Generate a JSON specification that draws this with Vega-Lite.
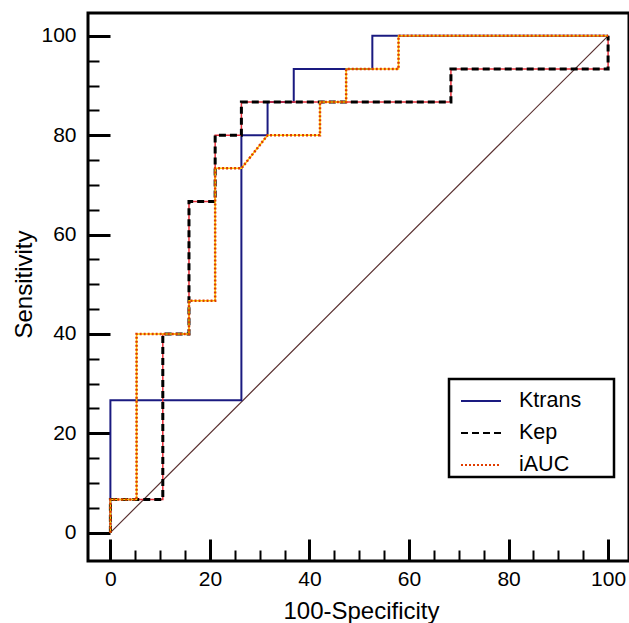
{
  "$schema": "https://vega.github.io/schema/vega-lite/v6.json",
  "width": 541,
  "height": 548,
  "autosize": {"type": "none"},
  "padding": {"left": 88, "top": 13, "right": 0, "bottom": 62},
  "background": "white",
  "config": {
    "font": "Liberation Sans",
    "view": {"stroke": "black", "strokeWidth": 3},
    "axis": {
      "domain": false,
      "grid": false,
      "labelColor": "black",
      "labelFontSize": 21,
      "labelFlush": false,
      "labelOverlap": false,
      "tickColor": "black",
      "titleColor": "black",
      "titleFontSize": 24,
      "titleFontWeight": "normal"
    },
    "legend": {
      "orient": "none",
      "legendX": 361,
      "legendY": 366,
      "strokeColor": "black",
      "padding": 1,
      "symbolOffset": 10,
      "symbolType": "stroke",
      "symbolSize": 1600,
      "symbolStrokeWidth": 2,
      "labelFontSize": 21.5,
      "labelColor": "black",
      "labelOffset": 17,
      "rowPadding": -11,
      "titleOrient": "right",
      "titleFontSize": 2,
      "titleColor": "white",
      "titleOpacity": 0,
      "titlePadding": 30
    }
  },
  "datasets": {
    "curves": [
      {"series": "Ktrans", "i": 0, "x": 0, "y": 0},
      {"series": "Ktrans", "i": 1, "x": 0, "y": 26.67},
      {"series": "Ktrans", "i": 2, "x": 26.32, "y": 26.67},
      {"series": "Ktrans", "i": 3, "x": 26.32, "y": 80},
      {"series": "Ktrans", "i": 4, "x": 31.58, "y": 80},
      {"series": "Ktrans", "i": 5, "x": 31.58, "y": 86.67},
      {"series": "Ktrans", "i": 6, "x": 36.84, "y": 86.67},
      {"series": "Ktrans", "i": 7, "x": 36.84, "y": 93.33},
      {"series": "Ktrans", "i": 8, "x": 52.63, "y": 93.33},
      {"series": "Ktrans", "i": 9, "x": 52.63, "y": 100},
      {"series": "Ktrans", "i": 10, "x": 100, "y": 100},
      {"series": "Kep", "i": 0, "x": 0, "y": 0},
      {"series": "Kep", "i": 1, "x": 0, "y": 6.67},
      {"series": "Kep", "i": 2, "x": 10.53, "y": 6.67},
      {"series": "Kep", "i": 3, "x": 10.53, "y": 40},
      {"series": "Kep", "i": 4, "x": 15.79, "y": 40},
      {"series": "Kep", "i": 5, "x": 15.79, "y": 66.67},
      {"series": "Kep", "i": 6, "x": 21.05, "y": 66.67},
      {"series": "Kep", "i": 7, "x": 21.05, "y": 80},
      {"series": "Kep", "i": 8, "x": 26.32, "y": 80},
      {"series": "Kep", "i": 9, "x": 26.32, "y": 86.67},
      {"series": "Kep", "i": 10, "x": 68.42, "y": 86.67},
      {"series": "Kep", "i": 11, "x": 68.42, "y": 93.33},
      {"series": "Kep", "i": 12, "x": 100, "y": 93.33},
      {"series": "Kep", "i": 13, "x": 100, "y": 100},
      {"series": "iAUC", "i": 0, "x": 0, "y": 0},
      {"series": "iAUC", "i": 1, "x": 0, "y": 6.67},
      {"series": "iAUC", "i": 2, "x": 5.26, "y": 6.67},
      {"series": "iAUC", "i": 3, "x": 5.26, "y": 40},
      {"series": "iAUC", "i": 4, "x": 15.79, "y": 40},
      {"series": "iAUC", "i": 5, "x": 15.79, "y": 46.67},
      {"series": "iAUC", "i": 6, "x": 21.05, "y": 46.67},
      {"series": "iAUC", "i": 7, "x": 21.05, "y": 73.33},
      {"series": "iAUC", "i": 8, "x": 26.32, "y": 73.33},
      {"series": "iAUC", "i": 9, "x": 31.58, "y": 80},
      {"series": "iAUC", "i": 10, "x": 42.11, "y": 80},
      {"series": "iAUC", "i": 11, "x": 42.11, "y": 86.67},
      {"series": "iAUC", "i": 12, "x": 47.37, "y": 86.67},
      {"series": "iAUC", "i": 13, "x": 47.37, "y": 93.33},
      {"series": "iAUC", "i": 14, "x": 57.89, "y": 93.33},
      {"series": "iAUC", "i": 15, "x": 57.89, "y": 100},
      {"series": "iAUC", "i": 16, "x": 100, "y": 100}
    ],
    "diag": [
      {"i": 0, "x": 0, "y": 0},
      {"i": 1, "x": 100, "y": 100}
    ]
  },
  "encoding": {
    "x": {
      "field": "x", "type": "quantitative",
      "scale": {"domain": [-4.5, 104.2], "nice": false, "zero": false},
      "axis": {
        "values": [0,5,10,15,20,25,30,35,40,45,50,55,60,65,70,75,80,85,90,95,100],
        "labelExpr": "datum.value % 20 === 0 ? datum.label : ''",
        "tickSize": {"condition": {"test": "datum.value % 20 === 0", "value": -22}, "value": -11},
        "tickWidth": {"condition": {"test": "datum.value % 20 === 0", "value": 3}, "value": 2},
        "labelPadding": 29,
        "title": "100-Specificity",
        "titleX": 273,
        "titleY": 57,
        "titleBaseline": "alphabetic"
      }
    },
    "y": {
      "field": "y", "type": "quantitative",
      "scale": {"domain": [-5.7, 104.6], "nice": false, "zero": false},
      "axis": {
        "values": [0,5,10,15,20,25,30,35,40,45,50,55,60,65,70,75,80,85,90,95,100],
        "labelExpr": "datum.value % 20 === 0 ? datum.label : ''",
        "tickSize": {"condition": {"test": "datum.value % 20 === 0", "value": -22}, "value": -11},
        "tickWidth": {"condition": {"test": "datum.value % 20 === 0", "value": 3}, "value": 2},
        "labelPadding": 34,
        "title": "Sensitivity",
        "titleX": -57,
        "titleY": 271,
        "titleBaseline": "alphabetic"
      }
    },
    "order": {"field": "i", "type": "quantitative"}
  },
  "layer": [
    {
      "data": {"name": "diag"},
      "mark": {"type": "line", "color": "#5a3030", "strokeWidth": 1.2}
    },
    {
      "data": {"name": "curves"},
      "transform": [{"filter": "datum.series === 'Ktrans'"}],
      "mark": {"type": "line", "strokeWidth": 2},
      "encoding": {
        "color": {"field": "series", "type": "nominal", "scale": {"domain": ["Ktrans", "Kep", "iAUC"], "range": ["#1a1a80", "#000000", "#e03c00"]}, "title": "M"},
        "strokeDash": {"field": "series", "type": "nominal", "scale": {"domain": ["Ktrans", "Kep", "iAUC"], "range": [[1, 0], [7, 4], [2, 2]]}, "title": "M"}
      }
    },
    {
      "data": {"name": "curves"},
      "transform": [{"filter": "datum.series === 'Kep'"}],
      "mark": {"type": "line", "strokeWidth": 1.5, "color": "#e8303a"}
    },
    {
      "data": {"name": "curves"},
      "transform": [{"filter": "datum.series === 'Kep'"}],
      "mark": {"type": "line", "strokeWidth": 3},
      "encoding": {
        "color": {"field": "series", "type": "nominal", "scale": {"domain": ["Ktrans", "Kep", "iAUC"], "range": ["#1a1a80", "#000000", "#e03c00"]}, "title": "M"},
        "strokeDash": {"field": "series", "type": "nominal", "scale": {"domain": ["Ktrans", "Kep", "iAUC"], "range": [[1, 0], [7, 4], [2, 2]]}, "title": "M"}
      }
    },
    {
      "data": {"name": "curves"},
      "transform": [{"filter": "datum.series === 'iAUC'"}],
      "mark": {"type": "line", "strokeWidth": 1.5, "color": "#ffcc00"}
    },
    {
      "data": {"name": "curves"},
      "transform": [{"filter": "datum.series === 'iAUC'"}],
      "mark": {"type": "line", "strokeWidth": 2.5},
      "encoding": {
        "color": {
          "field": "series", "type": "nominal", "title": "M",
          "scale": {"domain": ["Ktrans", "Kep", "iAUC"], "range": ["#1a1a80", "#000000", "#e03c00"]},
          "legend": {
            "encode": {"legend": {"update": {"strokeWidth": {"value": 2.5}}}}
          }
        },
        "strokeDash": {
          "field": "series", "type": "nominal", "title": "M",
          "scale": {"domain": ["Ktrans", "Kep", "iAUC"], "range": [[1, 0], [7, 4], [2, 2]]},
          "legend": {
            "encode": {"legend": {"update": {"strokeWidth": {"value": 2.5}}}}
          }
        }
      }
    }
  ]
}
